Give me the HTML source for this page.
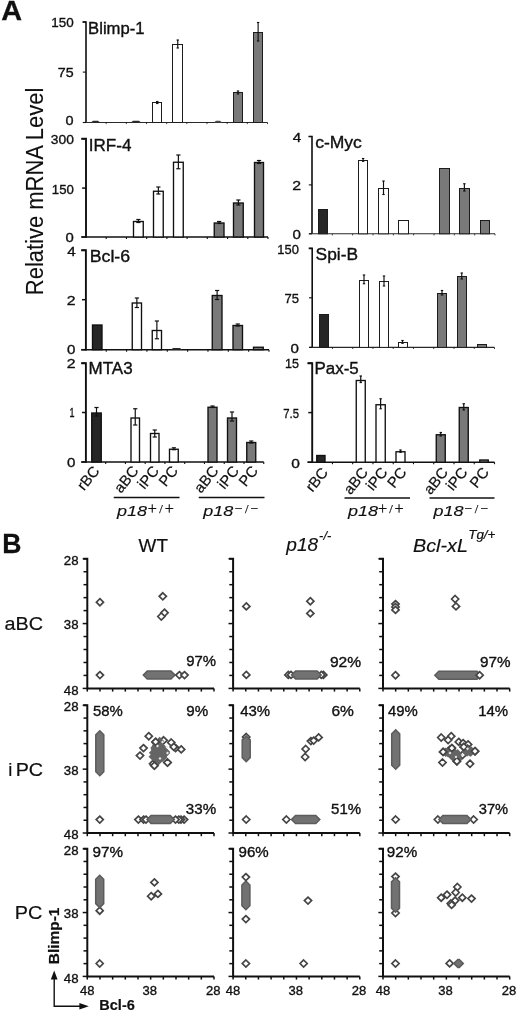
<!DOCTYPE html>
<html lang="en">
<head>
<meta charset="utf-8">
<title>Figure</title>
<style>
html,body{margin:0;padding:0;background:#fff;}
body{width:520px;height:1015px;overflow:hidden;}
svg{display:block;font-family:"Liberation Sans",sans-serif;fill:#101010;}
svg text{stroke:#101010;fill:#101010;}
</style>
</head>
<body>
<svg width="520" height="1015" viewBox="0 0 520 1015" stroke-width="0.35">
<rect x="0" y="0" width="520" height="1015" fill="#ffffff"/>
<g id="panelA">
<text x="1.18" y="19.50" font-size="27.5" textLength="20.80" lengthAdjust="spacingAndGlyphs" font-weight="bold" stroke-width="0.3">A</text>
<text transform="translate(42.5 293.4) rotate(-90)" x="-1.81" y="0" font-size="23.5" textLength="207.56" lengthAdjust="spacingAndGlyphs" stroke-width="0.1">Relative mRNA Level</text>
<path d="M82.50 22.00H86.00V122.50" fill="none" stroke="#101010" stroke-width="1.6"/>
<path d="M83.00 122.50H267.50" fill="none" stroke="#2a2a2a" stroke-width="1.1"/>
<line x1="82.80" y1="22.00" x2="86.00" y2="22.00" stroke="#101010" stroke-width="1.1"/>
<text x="51.19" y="26.95" font-size="13.5" textLength="22.43" lengthAdjust="spacingAndGlyphs">150</text>
<line x1="82.80" y1="72.10" x2="86.00" y2="72.10" stroke="#101010" stroke-width="1.1"/>
<text x="57.85" y="77.15" font-size="13.5" textLength="15.85" lengthAdjust="spacingAndGlyphs">75</text>
<line x1="82.80" y1="122.50" x2="86.00" y2="122.50" stroke="#101010" stroke-width="1.1"/>
<text x="65.62" y="124.95" font-size="13.5" textLength="8.04" lengthAdjust="spacingAndGlyphs">0</text>
<line x1="106.17" y1="122.50" x2="106.17" y2="124.10" stroke="#101010" stroke-width="0.8"/>
<line x1="126.33" y1="122.50" x2="126.33" y2="124.10" stroke="#101010" stroke-width="0.8"/>
<line x1="146.50" y1="122.50" x2="146.50" y2="124.10" stroke="#101010" stroke-width="0.8"/>
<line x1="166.67" y1="122.50" x2="166.67" y2="124.10" stroke="#101010" stroke-width="0.8"/>
<line x1="186.83" y1="122.50" x2="186.83" y2="124.10" stroke="#101010" stroke-width="0.8"/>
<line x1="207.00" y1="122.50" x2="207.00" y2="124.10" stroke="#101010" stroke-width="0.8"/>
<line x1="227.17" y1="122.50" x2="227.17" y2="124.10" stroke="#101010" stroke-width="0.8"/>
<line x1="247.33" y1="122.50" x2="247.33" y2="124.10" stroke="#101010" stroke-width="0.8"/>
<line x1="267.50" y1="122.50" x2="267.50" y2="124.10" stroke="#101010" stroke-width="0.8"/>
<text x="88.13" y="33.80" font-size="16" textLength="56.40" lengthAdjust="spacingAndGlyphs">Blimp-1</text>
<path d="M91.00 122.50L93.00 120.80H98.00L100.00 122.50Z" fill="#2a2a2a"/>
<path d="M131.00 122.50L133.00 120.80H139.00L141.00 122.50Z" fill="#2a2a2a"/>
<rect x="152.50" y="102.50" width="9.00" height="20.00" fill="#ffffff" stroke="#1c1c1c" stroke-width="1.0"/>
<line x1="157.25" y1="101.50" x2="157.25" y2="103.50" stroke="#101010" stroke-width="1.15"/>
<line x1="156.05" y1="101.50" x2="158.45" y2="101.50" stroke="#101010" stroke-width="1.15"/>
<line x1="156.05" y1="103.50" x2="158.45" y2="103.50" stroke="#101010" stroke-width="1.15"/>
<rect x="172.50" y="44.50" width="10.00" height="78.00" fill="#ffffff" stroke="#1c1c1c" stroke-width="1.0"/>
<line x1="177.75" y1="40.00" x2="177.75" y2="48.00" stroke="#101010" stroke-width="1.15"/>
<line x1="176.55" y1="40.00" x2="178.95" y2="40.00" stroke="#101010" stroke-width="1.15"/>
<line x1="176.55" y1="48.00" x2="178.95" y2="48.00" stroke="#101010" stroke-width="1.15"/>
<path d="M214.00 122.50L216.00 120.80H220.00L222.00 122.50Z" fill="#4a4a4a"/>
<rect x="233.50" y="92.50" width="9.00" height="30.00" fill="#797979" stroke="#1c1c1c" stroke-width="1.0"/>
<line x1="238.00" y1="91.00" x2="238.00" y2="94.00" stroke="#101010" stroke-width="1.15"/>
<line x1="236.80" y1="91.00" x2="239.20" y2="91.00" stroke="#101010" stroke-width="1.15"/>
<line x1="236.80" y1="94.00" x2="239.20" y2="94.00" stroke="#101010" stroke-width="1.15"/>
<rect x="253.50" y="32.50" width="9.00" height="90.00" fill="#797979" stroke="#1c1c1c" stroke-width="1.0"/>
<line x1="258.12" y1="22.50" x2="258.12" y2="41.00" stroke="#101010" stroke-width="1.15"/>
<line x1="256.93" y1="22.50" x2="259.32" y2="22.50" stroke="#101010" stroke-width="1.15"/>
<line x1="256.93" y1="41.00" x2="259.32" y2="41.00" stroke="#101010" stroke-width="1.15"/>
<path d="M81.40 138.75H86.00V237.75" fill="none" stroke="#101010" stroke-width="1.9"/>
<path d="M81.40 237.00H268.00" fill="none" stroke="#101010" stroke-width="1.5"/>
<line x1="81.40" y1="138.75" x2="86.00" y2="138.75" stroke="#101010" stroke-width="1.5"/>
<text x="50.78" y="144.45" font-size="13.5" textLength="23.05" lengthAdjust="spacingAndGlyphs">300</text>
<line x1="82.10" y1="188.10" x2="86.00" y2="188.10" stroke="#101010" stroke-width="1.5"/>
<text x="51.81" y="193.95" font-size="13.5" textLength="22.00" lengthAdjust="spacingAndGlyphs">150</text>
<line x1="81.40" y1="237.00" x2="86.00" y2="237.00" stroke="#101010" stroke-width="1.5"/>
<text x="65.61" y="242.35" font-size="13.5" textLength="8.27" lengthAdjust="spacingAndGlyphs">0</text>
<line x1="106.22" y1="237.00" x2="106.22" y2="239.00" stroke="#101010" stroke-width="1.1"/>
<line x1="126.44" y1="237.00" x2="126.44" y2="239.00" stroke="#101010" stroke-width="1.1"/>
<line x1="146.67" y1="237.00" x2="146.67" y2="239.00" stroke="#101010" stroke-width="1.1"/>
<line x1="166.89" y1="237.00" x2="166.89" y2="239.00" stroke="#101010" stroke-width="1.1"/>
<line x1="187.11" y1="237.00" x2="187.11" y2="239.00" stroke="#101010" stroke-width="1.1"/>
<line x1="207.33" y1="237.00" x2="207.33" y2="239.00" stroke="#101010" stroke-width="1.1"/>
<line x1="227.56" y1="237.00" x2="227.56" y2="239.00" stroke="#101010" stroke-width="1.1"/>
<line x1="247.78" y1="237.00" x2="247.78" y2="239.00" stroke="#101010" stroke-width="1.1"/>
<line x1="268.00" y1="237.00" x2="268.00" y2="239.00" stroke="#101010" stroke-width="1.1"/>
<text x="88.82" y="150.90" font-size="16" textLength="42.65" lengthAdjust="spacingAndGlyphs">IRF-4</text>
<rect x="133.50" y="221.50" width="9.75" height="15.50" fill="#ffffff" stroke="#101010" stroke-width="1.35"/>
<line x1="138.38" y1="219.50" x2="138.38" y2="222.50" stroke="#101010" stroke-width="1.2"/>
<line x1="136.28" y1="219.50" x2="140.47" y2="219.50" stroke="#101010" stroke-width="1.2"/>
<line x1="136.28" y1="222.50" x2="140.47" y2="222.50" stroke="#101010" stroke-width="1.2"/>
<rect x="153.50" y="191.25" width="9.75" height="45.75" fill="#ffffff" stroke="#101010" stroke-width="1.35"/>
<line x1="158.38" y1="187.00" x2="158.38" y2="194.00" stroke="#101010" stroke-width="1.2"/>
<line x1="156.28" y1="187.00" x2="160.47" y2="187.00" stroke="#101010" stroke-width="1.2"/>
<line x1="156.28" y1="194.00" x2="160.47" y2="194.00" stroke="#101010" stroke-width="1.2"/>
<rect x="173.50" y="162.25" width="9.75" height="74.75" fill="#ffffff" stroke="#101010" stroke-width="1.35"/>
<line x1="178.38" y1="155.00" x2="178.38" y2="168.75" stroke="#101010" stroke-width="1.2"/>
<line x1="176.28" y1="155.00" x2="180.47" y2="155.00" stroke="#101010" stroke-width="1.2"/>
<line x1="176.28" y1="168.75" x2="180.47" y2="168.75" stroke="#101010" stroke-width="1.2"/>
<rect x="214.25" y="223.00" width="9.75" height="14.00" fill="#797979" stroke="#101010" stroke-width="1.35"/>
<line x1="219.12" y1="221.50" x2="219.12" y2="223.50" stroke="#101010" stroke-width="1.2"/>
<line x1="217.03" y1="221.50" x2="221.22" y2="221.50" stroke="#101010" stroke-width="1.2"/>
<line x1="217.03" y1="223.50" x2="221.22" y2="223.50" stroke="#101010" stroke-width="1.2"/>
<rect x="233.50" y="203.00" width="9.75" height="34.00" fill="#797979" stroke="#101010" stroke-width="1.35"/>
<line x1="238.38" y1="200.00" x2="238.38" y2="205.00" stroke="#101010" stroke-width="1.2"/>
<line x1="236.28" y1="200.00" x2="240.47" y2="200.00" stroke="#101010" stroke-width="1.2"/>
<line x1="236.28" y1="205.00" x2="240.47" y2="205.00" stroke="#101010" stroke-width="1.2"/>
<rect x="254.50" y="162.50" width="9.00" height="74.50" fill="#797979" stroke="#101010" stroke-width="1.35"/>
<line x1="259.00" y1="160.50" x2="259.00" y2="163.50" stroke="#101010" stroke-width="1.2"/>
<line x1="256.90" y1="160.50" x2="261.10" y2="160.50" stroke="#101010" stroke-width="1.2"/>
<line x1="256.90" y1="163.50" x2="261.10" y2="163.50" stroke="#101010" stroke-width="1.2"/>
<path d="M81.30 250.30H85.90V350.45" fill="none" stroke="#101010" stroke-width="1.9"/>
<path d="M81.30 349.70H269.00" fill="none" stroke="#101010" stroke-width="1.5"/>
<line x1="81.30" y1="250.30" x2="85.90" y2="250.30" stroke="#101010" stroke-width="1.5"/>
<text x="67.16" y="256.05" font-size="13.5" textLength="8.48" lengthAdjust="spacingAndGlyphs">4</text>
<line x1="82.00" y1="299.70" x2="85.90" y2="299.70" stroke="#101010" stroke-width="1.5"/>
<text x="66.71" y="304.55" font-size="13.5" textLength="8.80" lengthAdjust="spacingAndGlyphs">2</text>
<line x1="81.30" y1="349.70" x2="85.90" y2="349.70" stroke="#101010" stroke-width="1.5"/>
<text x="66.90" y="354.45" font-size="13.5" textLength="8.39" lengthAdjust="spacingAndGlyphs">0</text>
<line x1="106.24" y1="349.70" x2="106.24" y2="351.70" stroke="#101010" stroke-width="1.1"/>
<line x1="126.59" y1="349.70" x2="126.59" y2="351.70" stroke="#101010" stroke-width="1.1"/>
<line x1="146.93" y1="349.70" x2="146.93" y2="351.70" stroke="#101010" stroke-width="1.1"/>
<line x1="167.28" y1="349.70" x2="167.28" y2="351.70" stroke="#101010" stroke-width="1.1"/>
<line x1="187.62" y1="349.70" x2="187.62" y2="351.70" stroke="#101010" stroke-width="1.1"/>
<line x1="207.97" y1="349.70" x2="207.97" y2="351.70" stroke="#101010" stroke-width="1.1"/>
<line x1="228.31" y1="349.70" x2="228.31" y2="351.70" stroke="#101010" stroke-width="1.1"/>
<line x1="248.66" y1="349.70" x2="248.66" y2="351.70" stroke="#101010" stroke-width="1.1"/>
<line x1="269.00" y1="349.70" x2="269.00" y2="351.70" stroke="#101010" stroke-width="1.1"/>
<text x="89.74" y="261.70" font-size="16" textLength="40.33" lengthAdjust="spacingAndGlyphs">Bcl-6</text>
<rect x="92.50" y="325.00" width="9.50" height="24.70" fill="#262626" stroke="#101010" stroke-width="1.35"/>
<rect x="132.25" y="303.00" width="9.25" height="46.70" fill="#ffffff" stroke="#101010" stroke-width="1.35"/>
<line x1="136.88" y1="298.00" x2="136.88" y2="307.50" stroke="#101010" stroke-width="1.2"/>
<line x1="134.78" y1="298.00" x2="138.97" y2="298.00" stroke="#101010" stroke-width="1.2"/>
<line x1="134.78" y1="307.50" x2="138.97" y2="307.50" stroke="#101010" stroke-width="1.2"/>
<rect x="152.25" y="330.50" width="9.25" height="19.20" fill="#ffffff" stroke="#101010" stroke-width="1.35"/>
<line x1="156.88" y1="321.00" x2="156.88" y2="338.75" stroke="#101010" stroke-width="1.2"/>
<line x1="154.78" y1="321.00" x2="158.97" y2="321.00" stroke="#101010" stroke-width="1.2"/>
<line x1="154.78" y1="338.75" x2="158.97" y2="338.75" stroke="#101010" stroke-width="1.2"/>
<path d="M171.00 349.70L173.00 348.00H180.00L182.00 349.70Z" fill="#2a2a2a"/>
<rect x="212.25" y="295.50" width="9.75" height="54.20" fill="#797979" stroke="#101010" stroke-width="1.35"/>
<line x1="217.12" y1="290.50" x2="217.12" y2="299.50" stroke="#101010" stroke-width="1.2"/>
<line x1="215.03" y1="290.50" x2="219.22" y2="290.50" stroke="#101010" stroke-width="1.2"/>
<line x1="215.03" y1="299.50" x2="219.22" y2="299.50" stroke="#101010" stroke-width="1.2"/>
<rect x="233.00" y="325.50" width="9.50" height="24.20" fill="#797979" stroke="#101010" stroke-width="1.35"/>
<line x1="237.75" y1="324.00" x2="237.75" y2="326.00" stroke="#101010" stroke-width="1.2"/>
<line x1="235.65" y1="324.00" x2="239.85" y2="324.00" stroke="#101010" stroke-width="1.2"/>
<line x1="235.65" y1="326.00" x2="239.85" y2="326.00" stroke="#101010" stroke-width="1.2"/>
<rect x="253.50" y="347.25" width="9.75" height="2.45" fill="#797979" stroke="#101010" stroke-width="1.35"/>
<path d="M81.30 363.20H85.90V462.75" fill="none" stroke="#101010" stroke-width="1.9"/>
<path d="M81.30 462.00H263.75" fill="none" stroke="#101010" stroke-width="1.5"/>
<line x1="81.30" y1="363.20" x2="85.90" y2="363.20" stroke="#101010" stroke-width="1.5"/>
<text x="66.71" y="368.45" font-size="13.5" textLength="8.80" lengthAdjust="spacingAndGlyphs">2</text>
<line x1="82.00" y1="412.50" x2="85.90" y2="412.50" stroke="#101010" stroke-width="1.5"/>
<text x="69.62" y="417.35" font-size="13.5" textLength="5.02" lengthAdjust="spacingAndGlyphs">1</text>
<line x1="81.30" y1="462.00" x2="85.90" y2="462.00" stroke="#101010" stroke-width="1.5"/>
<text x="66.90" y="466.95" font-size="13.5" textLength="8.39" lengthAdjust="spacingAndGlyphs">0</text>
<line x1="105.66" y1="462.00" x2="105.66" y2="464.00" stroke="#101010" stroke-width="1.1"/>
<line x1="125.42" y1="462.00" x2="125.42" y2="464.00" stroke="#101010" stroke-width="1.1"/>
<line x1="145.18" y1="462.00" x2="145.18" y2="464.00" stroke="#101010" stroke-width="1.1"/>
<line x1="164.94" y1="462.00" x2="164.94" y2="464.00" stroke="#101010" stroke-width="1.1"/>
<line x1="184.71" y1="462.00" x2="184.71" y2="464.00" stroke="#101010" stroke-width="1.1"/>
<line x1="204.47" y1="462.00" x2="204.47" y2="464.00" stroke="#101010" stroke-width="1.1"/>
<line x1="224.23" y1="462.00" x2="224.23" y2="464.00" stroke="#101010" stroke-width="1.1"/>
<line x1="243.99" y1="462.00" x2="243.99" y2="464.00" stroke="#101010" stroke-width="1.1"/>
<line x1="263.75" y1="462.00" x2="263.75" y2="464.00" stroke="#101010" stroke-width="1.1"/>
<text x="88.60" y="373.50" font-size="16" textLength="44.03" lengthAdjust="spacingAndGlyphs">MTA3</text>
<rect x="91.75" y="413.00" width="9.50" height="49.00" fill="#262626" stroke="#101010" stroke-width="1.35"/>
<line x1="96.50" y1="407.50" x2="96.50" y2="416.00" stroke="#101010" stroke-width="1.2"/>
<line x1="94.40" y1="407.50" x2="98.60" y2="407.50" stroke="#101010" stroke-width="1.2"/>
<line x1="94.40" y1="416.00" x2="98.60" y2="416.00" stroke="#101010" stroke-width="1.2"/>
<rect x="131.00" y="418.00" width="8.50" height="44.00" fill="#ffffff" stroke="#101010" stroke-width="1.35"/>
<line x1="135.25" y1="408.75" x2="135.25" y2="425.00" stroke="#101010" stroke-width="1.2"/>
<line x1="133.15" y1="408.75" x2="137.35" y2="408.75" stroke="#101010" stroke-width="1.2"/>
<line x1="133.15" y1="425.00" x2="137.35" y2="425.00" stroke="#101010" stroke-width="1.2"/>
<rect x="150.50" y="433.50" width="8.50" height="28.50" fill="#ffffff" stroke="#101010" stroke-width="1.35"/>
<line x1="154.75" y1="430.00" x2="154.75" y2="437.00" stroke="#101010" stroke-width="1.2"/>
<line x1="152.65" y1="430.00" x2="156.85" y2="430.00" stroke="#101010" stroke-width="1.2"/>
<line x1="152.65" y1="437.00" x2="156.85" y2="437.00" stroke="#101010" stroke-width="1.2"/>
<rect x="169.50" y="449.25" width="8.75" height="12.75" fill="#ffffff" stroke="#101010" stroke-width="1.35"/>
<line x1="173.88" y1="447.80" x2="173.88" y2="449.70" stroke="#101010" stroke-width="1.2"/>
<line x1="171.78" y1="447.80" x2="175.97" y2="447.80" stroke="#101010" stroke-width="1.2"/>
<line x1="171.78" y1="449.70" x2="175.97" y2="449.70" stroke="#101010" stroke-width="1.2"/>
<rect x="208.00" y="407.25" width="9.00" height="54.75" fill="#797979" stroke="#101010" stroke-width="1.35"/>
<line x1="212.50" y1="406.00" x2="212.50" y2="407.50" stroke="#101010" stroke-width="1.2"/>
<line x1="210.40" y1="406.00" x2="214.60" y2="406.00" stroke="#101010" stroke-width="1.2"/>
<line x1="210.40" y1="407.50" x2="214.60" y2="407.50" stroke="#101010" stroke-width="1.2"/>
<rect x="227.50" y="418.00" width="9.00" height="44.00" fill="#797979" stroke="#101010" stroke-width="1.35"/>
<line x1="232.00" y1="412.00" x2="232.00" y2="421.00" stroke="#101010" stroke-width="1.2"/>
<line x1="229.90" y1="412.00" x2="234.10" y2="412.00" stroke="#101010" stroke-width="1.2"/>
<line x1="229.90" y1="421.00" x2="234.10" y2="421.00" stroke="#101010" stroke-width="1.2"/>
<rect x="246.75" y="442.50" width="9.00" height="19.50" fill="#797979" stroke="#101010" stroke-width="1.35"/>
<line x1="251.25" y1="441.00" x2="251.25" y2="443.00" stroke="#101010" stroke-width="1.2"/>
<line x1="249.15" y1="441.00" x2="253.35" y2="441.00" stroke="#101010" stroke-width="1.2"/>
<line x1="249.15" y1="443.00" x2="253.35" y2="443.00" stroke="#101010" stroke-width="1.2"/>
<path d="M308.50 136.50H312.00V233.80" fill="none" stroke="#101010" stroke-width="1.6"/>
<path d="M309.00 233.80H495.00" fill="none" stroke="#2a2a2a" stroke-width="1.1"/>
<line x1="308.80" y1="136.50" x2="312.00" y2="136.50" stroke="#101010" stroke-width="1.1"/>
<text x="292.66" y="142.35" font-size="13.5" textLength="8.48" lengthAdjust="spacingAndGlyphs">4</text>
<line x1="308.80" y1="184.90" x2="312.00" y2="184.90" stroke="#101010" stroke-width="1.1"/>
<text x="292.21" y="190.05" font-size="13.5" textLength="8.80" lengthAdjust="spacingAndGlyphs">2</text>
<line x1="308.80" y1="233.80" x2="312.00" y2="233.80" stroke="#101010" stroke-width="1.1"/>
<text x="292.40" y="239.15" font-size="13.5" textLength="8.39" lengthAdjust="spacingAndGlyphs">0</text>
<line x1="332.33" y1="233.80" x2="332.33" y2="235.40" stroke="#101010" stroke-width="0.8"/>
<line x1="352.67" y1="233.80" x2="352.67" y2="235.40" stroke="#101010" stroke-width="0.8"/>
<line x1="373.00" y1="233.80" x2="373.00" y2="235.40" stroke="#101010" stroke-width="0.8"/>
<line x1="393.33" y1="233.80" x2="393.33" y2="235.40" stroke="#101010" stroke-width="0.8"/>
<line x1="413.67" y1="233.80" x2="413.67" y2="235.40" stroke="#101010" stroke-width="0.8"/>
<line x1="434.00" y1="233.80" x2="434.00" y2="235.40" stroke="#101010" stroke-width="0.8"/>
<line x1="454.33" y1="233.80" x2="454.33" y2="235.40" stroke="#101010" stroke-width="0.8"/>
<line x1="474.67" y1="233.80" x2="474.67" y2="235.40" stroke="#101010" stroke-width="0.8"/>
<line x1="495.00" y1="233.80" x2="495.00" y2="235.40" stroke="#101010" stroke-width="0.8"/>
<text x="315.15" y="148.40" font-size="16" textLength="46.75" lengthAdjust="spacingAndGlyphs">c-Myc</text>
<rect x="318.50" y="209.50" width="9.00" height="24.30" fill="#262626" stroke="#1c1c1c" stroke-width="1.0"/>
<rect x="358.50" y="160.50" width="9.00" height="73.30" fill="#ffffff" stroke="#1c1c1c" stroke-width="1.0"/>
<line x1="363.12" y1="158.50" x2="363.12" y2="161.30" stroke="#101010" stroke-width="1.15"/>
<line x1="361.93" y1="158.50" x2="364.32" y2="158.50" stroke="#101010" stroke-width="1.15"/>
<line x1="361.93" y1="161.30" x2="364.32" y2="161.30" stroke="#101010" stroke-width="1.15"/>
<rect x="378.50" y="188.50" width="10.00" height="45.30" fill="#ffffff" stroke="#1c1c1c" stroke-width="1.0"/>
<line x1="383.50" y1="181.00" x2="383.50" y2="194.50" stroke="#101010" stroke-width="1.15"/>
<line x1="382.30" y1="181.00" x2="384.70" y2="181.00" stroke="#101010" stroke-width="1.15"/>
<line x1="382.30" y1="194.50" x2="384.70" y2="194.50" stroke="#101010" stroke-width="1.15"/>
<rect x="398.50" y="220.50" width="10.00" height="13.30" fill="#ffffff" stroke="#1c1c1c" stroke-width="1.0"/>
<rect x="439.50" y="168.50" width="10.00" height="65.30" fill="#797979" stroke="#1c1c1c" stroke-width="1.0"/>
<rect x="459.50" y="188.50" width="10.00" height="45.30" fill="#797979" stroke="#1c1c1c" stroke-width="1.0"/>
<line x1="464.38" y1="183.75" x2="464.38" y2="191.00" stroke="#101010" stroke-width="1.15"/>
<line x1="463.18" y1="183.75" x2="465.57" y2="183.75" stroke="#101010" stroke-width="1.15"/>
<line x1="463.18" y1="191.00" x2="465.57" y2="191.00" stroke="#101010" stroke-width="1.15"/>
<rect x="480.50" y="220.50" width="9.00" height="13.30" fill="#797979" stroke="#1c1c1c" stroke-width="1.0"/>
<path d="M308.70 248.40H312.20V347.40" fill="none" stroke="#101010" stroke-width="1.6"/>
<path d="M309.20 347.40H494.50" fill="none" stroke="#2a2a2a" stroke-width="1.1"/>
<line x1="309.00" y1="248.40" x2="312.20" y2="248.40" stroke="#101010" stroke-width="1.1"/>
<text x="277.33" y="254.35" font-size="13.5" textLength="21.57" lengthAdjust="spacingAndGlyphs">150</text>
<line x1="309.00" y1="297.80" x2="312.20" y2="297.80" stroke="#101010" stroke-width="1.1"/>
<text x="284.41" y="302.85" font-size="13.5" textLength="14.54" lengthAdjust="spacingAndGlyphs">75</text>
<line x1="309.00" y1="347.40" x2="312.20" y2="347.40" stroke="#101010" stroke-width="1.1"/>
<text x="290.60" y="352.85" font-size="13.5" textLength="8.39" lengthAdjust="spacingAndGlyphs">0</text>
<line x1="332.46" y1="347.40" x2="332.46" y2="349.00" stroke="#101010" stroke-width="0.8"/>
<line x1="352.71" y1="347.40" x2="352.71" y2="349.00" stroke="#101010" stroke-width="0.8"/>
<line x1="372.97" y1="347.40" x2="372.97" y2="349.00" stroke="#101010" stroke-width="0.8"/>
<line x1="393.22" y1="347.40" x2="393.22" y2="349.00" stroke="#101010" stroke-width="0.8"/>
<line x1="413.48" y1="347.40" x2="413.48" y2="349.00" stroke="#101010" stroke-width="0.8"/>
<line x1="433.73" y1="347.40" x2="433.73" y2="349.00" stroke="#101010" stroke-width="0.8"/>
<line x1="453.99" y1="347.40" x2="453.99" y2="349.00" stroke="#101010" stroke-width="0.8"/>
<line x1="474.24" y1="347.40" x2="474.24" y2="349.00" stroke="#101010" stroke-width="0.8"/>
<line x1="494.50" y1="347.40" x2="494.50" y2="349.00" stroke="#101010" stroke-width="0.8"/>
<text x="315.62" y="259.60" font-size="16" textLength="42.40" lengthAdjust="spacingAndGlyphs">Spi-B</text>
<rect x="319.50" y="314.50" width="9.00" height="32.90" fill="#262626" stroke="#1c1c1c" stroke-width="1.0"/>
<rect x="359.50" y="280.50" width="9.00" height="66.90" fill="#ffffff" stroke="#1c1c1c" stroke-width="1.0"/>
<line x1="364.00" y1="275.00" x2="364.00" y2="283.75" stroke="#101010" stroke-width="1.15"/>
<line x1="362.80" y1="275.00" x2="365.20" y2="275.00" stroke="#101010" stroke-width="1.15"/>
<line x1="362.80" y1="283.75" x2="365.20" y2="283.75" stroke="#101010" stroke-width="1.15"/>
<rect x="379.50" y="281.50" width="9.00" height="65.90" fill="#ffffff" stroke="#1c1c1c" stroke-width="1.0"/>
<line x1="384.00" y1="276.00" x2="384.00" y2="286.00" stroke="#101010" stroke-width="1.15"/>
<line x1="382.80" y1="276.00" x2="385.20" y2="276.00" stroke="#101010" stroke-width="1.15"/>
<line x1="382.80" y1="286.00" x2="385.20" y2="286.00" stroke="#101010" stroke-width="1.15"/>
<rect x="398.50" y="342.50" width="9.00" height="4.90" fill="#ffffff" stroke="#1c1c1c" stroke-width="1.0"/>
<line x1="402.50" y1="340.50" x2="402.50" y2="343.30" stroke="#101010" stroke-width="1.15"/>
<line x1="401.30" y1="340.50" x2="403.70" y2="340.50" stroke="#101010" stroke-width="1.15"/>
<line x1="401.30" y1="343.30" x2="403.70" y2="343.30" stroke="#101010" stroke-width="1.15"/>
<rect x="437.50" y="293.50" width="9.00" height="53.90" fill="#797979" stroke="#1c1c1c" stroke-width="1.0"/>
<line x1="442.00" y1="290.50" x2="442.00" y2="295.00" stroke="#101010" stroke-width="1.15"/>
<line x1="440.80" y1="290.50" x2="443.20" y2="290.50" stroke="#101010" stroke-width="1.15"/>
<line x1="440.80" y1="295.00" x2="443.20" y2="295.00" stroke="#101010" stroke-width="1.15"/>
<rect x="457.50" y="276.50" width="9.00" height="70.90" fill="#797979" stroke="#1c1c1c" stroke-width="1.0"/>
<line x1="461.75" y1="273.00" x2="461.75" y2="279.00" stroke="#101010" stroke-width="1.15"/>
<line x1="460.55" y1="273.00" x2="462.95" y2="273.00" stroke="#101010" stroke-width="1.15"/>
<line x1="460.55" y1="279.00" x2="462.95" y2="279.00" stroke="#101010" stroke-width="1.15"/>
<rect x="477.50" y="344.50" width="9.00" height="2.90" fill="#797979" stroke="#1c1c1c" stroke-width="1.0"/>
<path d="M307.60 363.20H312.20V462.95" fill="none" stroke="#101010" stroke-width="1.9"/>
<path d="M307.60 462.20H494.50" fill="none" stroke="#101010" stroke-width="1.5"/>
<line x1="307.60" y1="363.20" x2="312.20" y2="363.20" stroke="#101010" stroke-width="1.5"/>
<text x="285.06" y="368.35" font-size="13.5" textLength="13.97" lengthAdjust="spacingAndGlyphs">15</text>
<line x1="308.30" y1="412.60" x2="312.20" y2="412.60" stroke="#101010" stroke-width="1.5"/>
<text x="283.21" y="417.55" font-size="13.5" textLength="15.75" lengthAdjust="spacingAndGlyphs">7.5</text>
<line x1="307.60" y1="462.20" x2="312.20" y2="462.20" stroke="#101010" stroke-width="1.5"/>
<text x="291.38" y="467.75" font-size="13.5" textLength="8.62" lengthAdjust="spacingAndGlyphs">0</text>
<line x1="332.46" y1="462.20" x2="332.46" y2="464.20" stroke="#101010" stroke-width="1.1"/>
<line x1="352.71" y1="462.20" x2="352.71" y2="464.20" stroke="#101010" stroke-width="1.1"/>
<line x1="372.97" y1="462.20" x2="372.97" y2="464.20" stroke="#101010" stroke-width="1.1"/>
<line x1="393.22" y1="462.20" x2="393.22" y2="464.20" stroke="#101010" stroke-width="1.1"/>
<line x1="413.48" y1="462.20" x2="413.48" y2="464.20" stroke="#101010" stroke-width="1.1"/>
<line x1="433.73" y1="462.20" x2="433.73" y2="464.20" stroke="#101010" stroke-width="1.1"/>
<line x1="453.99" y1="462.20" x2="453.99" y2="464.20" stroke="#101010" stroke-width="1.1"/>
<line x1="474.24" y1="462.20" x2="474.24" y2="464.20" stroke="#101010" stroke-width="1.1"/>
<line x1="494.50" y1="462.20" x2="494.50" y2="464.20" stroke="#101010" stroke-width="1.1"/>
<text x="314.50" y="374.30" font-size="16" textLength="44.21" lengthAdjust="spacingAndGlyphs">Pax-5</text>
<rect x="316.75" y="455.50" width="8.25" height="6.70" fill="#262626" stroke="#101010" stroke-width="1.35"/>
<rect x="356.25" y="380.50" width="9.00" height="81.70" fill="#ffffff" stroke="#101010" stroke-width="1.35"/>
<line x1="360.75" y1="376.00" x2="360.75" y2="382.50" stroke="#101010" stroke-width="1.2"/>
<line x1="359.55" y1="376.00" x2="361.95" y2="376.00" stroke="#101010" stroke-width="1.2"/>
<line x1="359.55" y1="382.50" x2="361.95" y2="382.50" stroke="#101010" stroke-width="1.2"/>
<rect x="376.00" y="404.75" width="9.25" height="57.45" fill="#ffffff" stroke="#101010" stroke-width="1.35"/>
<line x1="380.62" y1="398.75" x2="380.62" y2="408.75" stroke="#101010" stroke-width="1.2"/>
<line x1="379.43" y1="398.75" x2="381.82" y2="398.75" stroke="#101010" stroke-width="1.2"/>
<line x1="379.43" y1="408.75" x2="381.82" y2="408.75" stroke="#101010" stroke-width="1.2"/>
<rect x="396.00" y="451.75" width="9.00" height="10.45" fill="#ffffff" stroke="#101010" stroke-width="1.35"/>
<line x1="400.50" y1="450.00" x2="400.50" y2="452.30" stroke="#101010" stroke-width="1.2"/>
<line x1="399.30" y1="450.00" x2="401.70" y2="450.00" stroke="#101010" stroke-width="1.2"/>
<line x1="399.30" y1="452.30" x2="401.70" y2="452.30" stroke="#101010" stroke-width="1.2"/>
<rect x="436.25" y="434.75" width="9.00" height="27.45" fill="#797979" stroke="#101010" stroke-width="1.35"/>
<line x1="440.75" y1="432.50" x2="440.75" y2="436.00" stroke="#101010" stroke-width="1.2"/>
<line x1="439.55" y1="432.50" x2="441.95" y2="432.50" stroke="#101010" stroke-width="1.2"/>
<line x1="439.55" y1="436.00" x2="441.95" y2="436.00" stroke="#101010" stroke-width="1.2"/>
<rect x="459.25" y="407.50" width="9.00" height="54.70" fill="#797979" stroke="#101010" stroke-width="1.35"/>
<line x1="463.75" y1="403.75" x2="463.75" y2="410.00" stroke="#101010" stroke-width="1.2"/>
<line x1="462.55" y1="403.75" x2="464.95" y2="403.75" stroke="#101010" stroke-width="1.2"/>
<line x1="462.55" y1="410.00" x2="464.95" y2="410.00" stroke="#101010" stroke-width="1.2"/>
<rect x="479.75" y="460.00" width="8.50" height="2.20" fill="#797979" stroke="#101010" stroke-width="1.35"/>
<text transform="translate(100.30 471.20) rotate(-51)" font-size="15" text-anchor="end" stroke-width="0.2">rBC</text>
<text transform="translate(139.30 471.20) rotate(-51)" font-size="15" text-anchor="end" stroke-width="0.2">aBC</text>
<text transform="translate(159.80 471.20) rotate(-51)" font-size="15" text-anchor="end" stroke-width="0.2">iPC</text>
<text transform="translate(178.80 471.20) rotate(-51)" font-size="15" text-anchor="end" stroke-width="0.2">PC</text>
<text transform="translate(219.30 471.20) rotate(-51)" font-size="15" text-anchor="end" stroke-width="0.2">aBC</text>
<text transform="translate(239.80 471.20) rotate(-51)" font-size="15" text-anchor="end" stroke-width="0.2">iPC</text>
<text transform="translate(258.80 471.20) rotate(-51)" font-size="15" text-anchor="end" stroke-width="0.2">PC</text>
<text transform="translate(328.80 472.70) rotate(-51)" font-size="15" text-anchor="end" stroke-width="0.2">rBC</text>
<text transform="translate(368.80 472.70) rotate(-51)" font-size="15" text-anchor="end" stroke-width="0.2">aBC</text>
<text transform="translate(388.30 472.70) rotate(-51)" font-size="15" text-anchor="end" stroke-width="0.2">iPC</text>
<text transform="translate(407.30 472.70) rotate(-51)" font-size="15" text-anchor="end" stroke-width="0.2">PC</text>
<text transform="translate(448.80 472.70) rotate(-51)" font-size="15" text-anchor="end" stroke-width="0.2">aBC</text>
<text transform="translate(468.30 472.70) rotate(-51)" font-size="15" text-anchor="end" stroke-width="0.2">iPC</text>
<text transform="translate(489.80 472.70) rotate(-51)" font-size="15" text-anchor="end" stroke-width="0.2">PC</text>
<line x1="113.75" y1="497.50" x2="179.50" y2="497.50" stroke="#101010" stroke-width="1.3"/>
<line x1="198.75" y1="497.50" x2="264.50" y2="497.50" stroke="#101010" stroke-width="1.3"/>
<line x1="344.50" y1="498.00" x2="410.00" y2="498.00" stroke="#101010" stroke-width="1.3"/>
<line x1="429.50" y1="498.00" x2="494.50" y2="498.00" stroke="#101010" stroke-width="1.3"/>
<text x="117.00" y="515.80" font-size="15.5" textLength="30.00" lengthAdjust="spacingAndGlyphs" font-style="italic" stroke-width="0.12">p18</text>
<text x="152.20" y="513.90" font-size="16.2" text-anchor="middle" font-family="'Liberation Serif', serif" stroke-width="0.25">+</text>
<text x="161.00" y="512.60" font-size="12.5" text-anchor="middle" font-family="'Liberation Serif', serif" stroke-width="0.25">/</text>
<text x="169.20" y="513.90" font-size="16.2" text-anchor="middle" font-family="'Liberation Serif', serif" stroke-width="0.25">+</text>
<text x="203.25" y="515.80" font-size="15.5" textLength="30.00" lengthAdjust="spacingAndGlyphs" font-style="italic" stroke-width="0.12">p18</text>
<text x="238.60" y="512.60" font-size="13.5" text-anchor="middle" font-family="'Liberation Serif', serif" stroke-width="0.25">−</text>
<text x="246.80" y="512.60" font-size="12.5" text-anchor="middle" font-family="'Liberation Serif', serif" stroke-width="0.25">/</text>
<text x="254.40" y="512.60" font-size="13.5" text-anchor="middle" font-family="'Liberation Serif', serif" stroke-width="0.25">−</text>
<text x="348.00" y="516.10" font-size="15.5" textLength="30.00" lengthAdjust="spacingAndGlyphs" font-style="italic" stroke-width="0.12">p18</text>
<text x="382.50" y="514.20" font-size="16.2" text-anchor="middle" font-family="'Liberation Serif', serif" stroke-width="0.25">+</text>
<text x="391.10" y="512.90" font-size="12.5" text-anchor="middle" font-family="'Liberation Serif', serif" stroke-width="0.25">/</text>
<text x="399.10" y="514.20" font-size="16.2" text-anchor="middle" font-family="'Liberation Serif', serif" stroke-width="0.25">+</text>
<text x="433.50" y="516.10" font-size="15.5" textLength="30.00" lengthAdjust="spacingAndGlyphs" font-style="italic" stroke-width="0.12">p18</text>
<text x="468.20" y="512.90" font-size="13.5" text-anchor="middle" font-family="'Liberation Serif', serif" stroke-width="0.25">−</text>
<text x="476.50" y="512.90" font-size="12.5" text-anchor="middle" font-family="'Liberation Serif', serif" stroke-width="0.25">/</text>
<text x="484.20" y="512.90" font-size="13.5" text-anchor="middle" font-family="'Liberation Serif', serif" stroke-width="0.25">−</text>
</g>
<g id="panelB">
<text x="2.21" y="552.90" font-size="27.5" textLength="19.18" lengthAdjust="spacingAndGlyphs" font-weight="bold" stroke-width="0.3">B</text>
<text x="138.61" y="552.20" font-size="18.5" textLength="29.31" lengthAdjust="spacingAndGlyphs" stroke-width="0.2">WT</text>
<text x="286.38" y="551.10" font-size="18" textLength="31.84" lengthAdjust="spacingAndGlyphs" font-style="italic" stroke-width="0.15">p18</text>
<text x="319.13" y="540.20" font-size="12.5" textLength="12.08" lengthAdjust="spacingAndGlyphs" font-style="italic" stroke-width="0.2">-/-</text>
<text x="413.11" y="551.60" font-size="18.5" textLength="54.79" lengthAdjust="spacingAndGlyphs" font-style="italic" stroke-width="0.15">Bcl-xL</text>
<text x="468.19" y="539.20" font-size="12.6" textLength="27.26" lengthAdjust="spacingAndGlyphs" font-style="italic" stroke-width="0.2">Tg/+</text>
<text x="4.46" y="629.60" font-size="18.3" textLength="38.54" lengthAdjust="spacingAndGlyphs" stroke-width="0.2">aBC</text>
<text y="775.7" font-size="18.3" stroke-width="0.2"><tspan x="8.2">i</tspan><tspan x="15.67" textLength="27.40" lengthAdjust="spacingAndGlyphs">PC</tspan></text>
<text x="14.77" y="919.20" font-size="18.3" textLength="27.51" lengthAdjust="spacingAndGlyphs" stroke-width="0.2">PC</text>
<path d="M83.30 558.75H87.30V688.40H214.00" fill="none" stroke="#101010" stroke-width="2"/>
<line x1="82.70" y1="558.75" x2="87.30" y2="558.75" stroke="#101010" stroke-width="1.5"/>
<line x1="87.30" y1="688.40" x2="87.30" y2="691.60" stroke="#101010" stroke-width="1.5"/>
<line x1="83.50" y1="571.72" x2="87.30" y2="571.72" stroke="#101010" stroke-width="1.5"/>
<line x1="99.97" y1="688.40" x2="99.97" y2="691.60" stroke="#101010" stroke-width="1.5"/>
<line x1="83.50" y1="584.68" x2="87.30" y2="584.68" stroke="#101010" stroke-width="1.5"/>
<line x1="112.64" y1="688.40" x2="112.64" y2="691.60" stroke="#101010" stroke-width="1.5"/>
<line x1="83.50" y1="597.64" x2="87.30" y2="597.64" stroke="#101010" stroke-width="1.5"/>
<line x1="125.31" y1="688.40" x2="125.31" y2="691.60" stroke="#101010" stroke-width="1.5"/>
<line x1="83.50" y1="610.61" x2="87.30" y2="610.61" stroke="#101010" stroke-width="1.5"/>
<line x1="137.98" y1="688.40" x2="137.98" y2="691.60" stroke="#101010" stroke-width="1.5"/>
<line x1="82.70" y1="623.58" x2="87.30" y2="623.58" stroke="#101010" stroke-width="1.5"/>
<line x1="150.65" y1="688.40" x2="150.65" y2="691.60" stroke="#101010" stroke-width="1.5"/>
<line x1="83.50" y1="636.54" x2="87.30" y2="636.54" stroke="#101010" stroke-width="1.5"/>
<line x1="163.32" y1="688.40" x2="163.32" y2="691.60" stroke="#101010" stroke-width="1.5"/>
<line x1="83.50" y1="649.50" x2="87.30" y2="649.50" stroke="#101010" stroke-width="1.5"/>
<line x1="175.99" y1="688.40" x2="175.99" y2="691.60" stroke="#101010" stroke-width="1.5"/>
<line x1="83.50" y1="662.47" x2="87.30" y2="662.47" stroke="#101010" stroke-width="1.5"/>
<line x1="188.66" y1="688.40" x2="188.66" y2="691.60" stroke="#101010" stroke-width="1.5"/>
<line x1="83.50" y1="675.43" x2="87.30" y2="675.43" stroke="#101010" stroke-width="1.5"/>
<line x1="201.33" y1="688.40" x2="201.33" y2="691.60" stroke="#101010" stroke-width="1.5"/>
<line x1="82.70" y1="688.40" x2="87.30" y2="688.40" stroke="#101010" stroke-width="1.5"/>
<line x1="214.00" y1="688.40" x2="214.00" y2="691.60" stroke="#101010" stroke-width="1.5"/>
<text x="78.50" y="564.85" font-size="13.6" text-anchor="end" textLength="14.70" lengthAdjust="spacingAndGlyphs">28</text>
<text x="78.50" y="628.98" font-size="13.6" text-anchor="end" textLength="14.70" lengthAdjust="spacingAndGlyphs">38</text>
<text x="78.50" y="694.60" font-size="13.6" text-anchor="end" textLength="14.70" lengthAdjust="spacingAndGlyphs">48</text>
<path d="M83.30 705.30H87.30V833.00H214.00" fill="none" stroke="#101010" stroke-width="2"/>
<line x1="82.70" y1="705.30" x2="87.30" y2="705.30" stroke="#101010" stroke-width="1.5"/>
<line x1="87.30" y1="833.00" x2="87.30" y2="836.20" stroke="#101010" stroke-width="1.5"/>
<line x1="83.50" y1="718.07" x2="87.30" y2="718.07" stroke="#101010" stroke-width="1.5"/>
<line x1="99.97" y1="833.00" x2="99.97" y2="836.20" stroke="#101010" stroke-width="1.5"/>
<line x1="83.50" y1="730.84" x2="87.30" y2="730.84" stroke="#101010" stroke-width="1.5"/>
<line x1="112.64" y1="833.00" x2="112.64" y2="836.20" stroke="#101010" stroke-width="1.5"/>
<line x1="83.50" y1="743.61" x2="87.30" y2="743.61" stroke="#101010" stroke-width="1.5"/>
<line x1="125.31" y1="833.00" x2="125.31" y2="836.20" stroke="#101010" stroke-width="1.5"/>
<line x1="83.50" y1="756.38" x2="87.30" y2="756.38" stroke="#101010" stroke-width="1.5"/>
<line x1="137.98" y1="833.00" x2="137.98" y2="836.20" stroke="#101010" stroke-width="1.5"/>
<line x1="82.70" y1="769.15" x2="87.30" y2="769.15" stroke="#101010" stroke-width="1.5"/>
<line x1="150.65" y1="833.00" x2="150.65" y2="836.20" stroke="#101010" stroke-width="1.5"/>
<line x1="83.50" y1="781.92" x2="87.30" y2="781.92" stroke="#101010" stroke-width="1.5"/>
<line x1="163.32" y1="833.00" x2="163.32" y2="836.20" stroke="#101010" stroke-width="1.5"/>
<line x1="83.50" y1="794.69" x2="87.30" y2="794.69" stroke="#101010" stroke-width="1.5"/>
<line x1="175.99" y1="833.00" x2="175.99" y2="836.20" stroke="#101010" stroke-width="1.5"/>
<line x1="83.50" y1="807.46" x2="87.30" y2="807.46" stroke="#101010" stroke-width="1.5"/>
<line x1="188.66" y1="833.00" x2="188.66" y2="836.20" stroke="#101010" stroke-width="1.5"/>
<line x1="83.50" y1="820.23" x2="87.30" y2="820.23" stroke="#101010" stroke-width="1.5"/>
<line x1="201.33" y1="833.00" x2="201.33" y2="836.20" stroke="#101010" stroke-width="1.5"/>
<line x1="82.70" y1="833.00" x2="87.30" y2="833.00" stroke="#101010" stroke-width="1.5"/>
<line x1="214.00" y1="833.00" x2="214.00" y2="836.20" stroke="#101010" stroke-width="1.5"/>
<text x="78.50" y="711.40" font-size="13.6" text-anchor="end" textLength="14.70" lengthAdjust="spacingAndGlyphs">28</text>
<text x="78.50" y="774.55" font-size="13.6" text-anchor="end" textLength="14.70" lengthAdjust="spacingAndGlyphs">38</text>
<text x="78.50" y="839.20" font-size="13.6" text-anchor="end" textLength="14.70" lengthAdjust="spacingAndGlyphs">48</text>
<path d="M83.30 848.70H87.30V976.40H214.00" fill="none" stroke="#101010" stroke-width="2"/>
<line x1="82.70" y1="848.70" x2="87.30" y2="848.70" stroke="#101010" stroke-width="1.5"/>
<line x1="87.30" y1="976.40" x2="87.30" y2="979.60" stroke="#101010" stroke-width="1.5"/>
<line x1="83.50" y1="861.47" x2="87.30" y2="861.47" stroke="#101010" stroke-width="1.5"/>
<line x1="99.97" y1="976.40" x2="99.97" y2="979.60" stroke="#101010" stroke-width="1.5"/>
<line x1="83.50" y1="874.24" x2="87.30" y2="874.24" stroke="#101010" stroke-width="1.5"/>
<line x1="112.64" y1="976.40" x2="112.64" y2="979.60" stroke="#101010" stroke-width="1.5"/>
<line x1="83.50" y1="887.01" x2="87.30" y2="887.01" stroke="#101010" stroke-width="1.5"/>
<line x1="125.31" y1="976.40" x2="125.31" y2="979.60" stroke="#101010" stroke-width="1.5"/>
<line x1="83.50" y1="899.78" x2="87.30" y2="899.78" stroke="#101010" stroke-width="1.5"/>
<line x1="137.98" y1="976.40" x2="137.98" y2="979.60" stroke="#101010" stroke-width="1.5"/>
<line x1="82.70" y1="912.55" x2="87.30" y2="912.55" stroke="#101010" stroke-width="1.5"/>
<line x1="150.65" y1="976.40" x2="150.65" y2="979.60" stroke="#101010" stroke-width="1.5"/>
<line x1="83.50" y1="925.32" x2="87.30" y2="925.32" stroke="#101010" stroke-width="1.5"/>
<line x1="163.32" y1="976.40" x2="163.32" y2="979.60" stroke="#101010" stroke-width="1.5"/>
<line x1="83.50" y1="938.09" x2="87.30" y2="938.09" stroke="#101010" stroke-width="1.5"/>
<line x1="175.99" y1="976.40" x2="175.99" y2="979.60" stroke="#101010" stroke-width="1.5"/>
<line x1="83.50" y1="950.86" x2="87.30" y2="950.86" stroke="#101010" stroke-width="1.5"/>
<line x1="188.66" y1="976.40" x2="188.66" y2="979.60" stroke="#101010" stroke-width="1.5"/>
<line x1="83.50" y1="963.63" x2="87.30" y2="963.63" stroke="#101010" stroke-width="1.5"/>
<line x1="201.33" y1="976.40" x2="201.33" y2="979.60" stroke="#101010" stroke-width="1.5"/>
<line x1="82.70" y1="976.40" x2="87.30" y2="976.40" stroke="#101010" stroke-width="1.5"/>
<line x1="214.00" y1="976.40" x2="214.00" y2="979.60" stroke="#101010" stroke-width="1.5"/>
<text x="78.50" y="854.80" font-size="13.6" text-anchor="end" textLength="14.70" lengthAdjust="spacingAndGlyphs">28</text>
<text x="78.50" y="917.95" font-size="13.6" text-anchor="end" textLength="14.70" lengthAdjust="spacingAndGlyphs">38</text>
<text x="78.50" y="982.60" font-size="13.6" text-anchor="end" textLength="14.70" lengthAdjust="spacingAndGlyphs">48</text>
<text x="87.30" y="995.20" font-size="13.6" text-anchor="middle" textLength="14.50" lengthAdjust="spacingAndGlyphs">48</text>
<text x="149.85" y="995.20" font-size="13.6" text-anchor="middle" textLength="14.50" lengthAdjust="spacingAndGlyphs">38</text>
<text x="213.20" y="995.20" font-size="13.6" text-anchor="middle" textLength="14.50" lengthAdjust="spacingAndGlyphs">28</text>
<path d="M229.10 558.75H233.10V688.40H359.80" fill="none" stroke="#101010" stroke-width="2"/>
<line x1="228.50" y1="558.75" x2="233.10" y2="558.75" stroke="#101010" stroke-width="1.5"/>
<line x1="233.10" y1="688.40" x2="233.10" y2="691.60" stroke="#101010" stroke-width="1.5"/>
<line x1="229.30" y1="571.72" x2="233.10" y2="571.72" stroke="#101010" stroke-width="1.5"/>
<line x1="245.77" y1="688.40" x2="245.77" y2="691.60" stroke="#101010" stroke-width="1.5"/>
<line x1="229.30" y1="584.68" x2="233.10" y2="584.68" stroke="#101010" stroke-width="1.5"/>
<line x1="258.44" y1="688.40" x2="258.44" y2="691.60" stroke="#101010" stroke-width="1.5"/>
<line x1="229.30" y1="597.64" x2="233.10" y2="597.64" stroke="#101010" stroke-width="1.5"/>
<line x1="271.11" y1="688.40" x2="271.11" y2="691.60" stroke="#101010" stroke-width="1.5"/>
<line x1="229.30" y1="610.61" x2="233.10" y2="610.61" stroke="#101010" stroke-width="1.5"/>
<line x1="283.78" y1="688.40" x2="283.78" y2="691.60" stroke="#101010" stroke-width="1.5"/>
<line x1="228.50" y1="623.58" x2="233.10" y2="623.58" stroke="#101010" stroke-width="1.5"/>
<line x1="296.45" y1="688.40" x2="296.45" y2="691.60" stroke="#101010" stroke-width="1.5"/>
<line x1="229.30" y1="636.54" x2="233.10" y2="636.54" stroke="#101010" stroke-width="1.5"/>
<line x1="309.12" y1="688.40" x2="309.12" y2="691.60" stroke="#101010" stroke-width="1.5"/>
<line x1="229.30" y1="649.50" x2="233.10" y2="649.50" stroke="#101010" stroke-width="1.5"/>
<line x1="321.79" y1="688.40" x2="321.79" y2="691.60" stroke="#101010" stroke-width="1.5"/>
<line x1="229.30" y1="662.47" x2="233.10" y2="662.47" stroke="#101010" stroke-width="1.5"/>
<line x1="334.46" y1="688.40" x2="334.46" y2="691.60" stroke="#101010" stroke-width="1.5"/>
<line x1="229.30" y1="675.43" x2="233.10" y2="675.43" stroke="#101010" stroke-width="1.5"/>
<line x1="347.13" y1="688.40" x2="347.13" y2="691.60" stroke="#101010" stroke-width="1.5"/>
<line x1="228.50" y1="688.40" x2="233.10" y2="688.40" stroke="#101010" stroke-width="1.5"/>
<line x1="359.80" y1="688.40" x2="359.80" y2="691.60" stroke="#101010" stroke-width="1.5"/>
<path d="M229.10 705.30H233.10V833.00H359.80" fill="none" stroke="#101010" stroke-width="2"/>
<line x1="228.50" y1="705.30" x2="233.10" y2="705.30" stroke="#101010" stroke-width="1.5"/>
<line x1="233.10" y1="833.00" x2="233.10" y2="836.20" stroke="#101010" stroke-width="1.5"/>
<line x1="229.30" y1="718.07" x2="233.10" y2="718.07" stroke="#101010" stroke-width="1.5"/>
<line x1="245.77" y1="833.00" x2="245.77" y2="836.20" stroke="#101010" stroke-width="1.5"/>
<line x1="229.30" y1="730.84" x2="233.10" y2="730.84" stroke="#101010" stroke-width="1.5"/>
<line x1="258.44" y1="833.00" x2="258.44" y2="836.20" stroke="#101010" stroke-width="1.5"/>
<line x1="229.30" y1="743.61" x2="233.10" y2="743.61" stroke="#101010" stroke-width="1.5"/>
<line x1="271.11" y1="833.00" x2="271.11" y2="836.20" stroke="#101010" stroke-width="1.5"/>
<line x1="229.30" y1="756.38" x2="233.10" y2="756.38" stroke="#101010" stroke-width="1.5"/>
<line x1="283.78" y1="833.00" x2="283.78" y2="836.20" stroke="#101010" stroke-width="1.5"/>
<line x1="228.50" y1="769.15" x2="233.10" y2="769.15" stroke="#101010" stroke-width="1.5"/>
<line x1="296.45" y1="833.00" x2="296.45" y2="836.20" stroke="#101010" stroke-width="1.5"/>
<line x1="229.30" y1="781.92" x2="233.10" y2="781.92" stroke="#101010" stroke-width="1.5"/>
<line x1="309.12" y1="833.00" x2="309.12" y2="836.20" stroke="#101010" stroke-width="1.5"/>
<line x1="229.30" y1="794.69" x2="233.10" y2="794.69" stroke="#101010" stroke-width="1.5"/>
<line x1="321.79" y1="833.00" x2="321.79" y2="836.20" stroke="#101010" stroke-width="1.5"/>
<line x1="229.30" y1="807.46" x2="233.10" y2="807.46" stroke="#101010" stroke-width="1.5"/>
<line x1="334.46" y1="833.00" x2="334.46" y2="836.20" stroke="#101010" stroke-width="1.5"/>
<line x1="229.30" y1="820.23" x2="233.10" y2="820.23" stroke="#101010" stroke-width="1.5"/>
<line x1="347.13" y1="833.00" x2="347.13" y2="836.20" stroke="#101010" stroke-width="1.5"/>
<line x1="228.50" y1="833.00" x2="233.10" y2="833.00" stroke="#101010" stroke-width="1.5"/>
<line x1="359.80" y1="833.00" x2="359.80" y2="836.20" stroke="#101010" stroke-width="1.5"/>
<path d="M229.10 848.70H233.10V976.40H359.80" fill="none" stroke="#101010" stroke-width="2"/>
<line x1="228.50" y1="848.70" x2="233.10" y2="848.70" stroke="#101010" stroke-width="1.5"/>
<line x1="233.10" y1="976.40" x2="233.10" y2="979.60" stroke="#101010" stroke-width="1.5"/>
<line x1="229.30" y1="861.47" x2="233.10" y2="861.47" stroke="#101010" stroke-width="1.5"/>
<line x1="245.77" y1="976.40" x2="245.77" y2="979.60" stroke="#101010" stroke-width="1.5"/>
<line x1="229.30" y1="874.24" x2="233.10" y2="874.24" stroke="#101010" stroke-width="1.5"/>
<line x1="258.44" y1="976.40" x2="258.44" y2="979.60" stroke="#101010" stroke-width="1.5"/>
<line x1="229.30" y1="887.01" x2="233.10" y2="887.01" stroke="#101010" stroke-width="1.5"/>
<line x1="271.11" y1="976.40" x2="271.11" y2="979.60" stroke="#101010" stroke-width="1.5"/>
<line x1="229.30" y1="899.78" x2="233.10" y2="899.78" stroke="#101010" stroke-width="1.5"/>
<line x1="283.78" y1="976.40" x2="283.78" y2="979.60" stroke="#101010" stroke-width="1.5"/>
<line x1="228.50" y1="912.55" x2="233.10" y2="912.55" stroke="#101010" stroke-width="1.5"/>
<line x1="296.45" y1="976.40" x2="296.45" y2="979.60" stroke="#101010" stroke-width="1.5"/>
<line x1="229.30" y1="925.32" x2="233.10" y2="925.32" stroke="#101010" stroke-width="1.5"/>
<line x1="309.12" y1="976.40" x2="309.12" y2="979.60" stroke="#101010" stroke-width="1.5"/>
<line x1="229.30" y1="938.09" x2="233.10" y2="938.09" stroke="#101010" stroke-width="1.5"/>
<line x1="321.79" y1="976.40" x2="321.79" y2="979.60" stroke="#101010" stroke-width="1.5"/>
<line x1="229.30" y1="950.86" x2="233.10" y2="950.86" stroke="#101010" stroke-width="1.5"/>
<line x1="334.46" y1="976.40" x2="334.46" y2="979.60" stroke="#101010" stroke-width="1.5"/>
<line x1="229.30" y1="963.63" x2="233.10" y2="963.63" stroke="#101010" stroke-width="1.5"/>
<line x1="347.13" y1="976.40" x2="347.13" y2="979.60" stroke="#101010" stroke-width="1.5"/>
<line x1="228.50" y1="976.40" x2="233.10" y2="976.40" stroke="#101010" stroke-width="1.5"/>
<line x1="359.80" y1="976.40" x2="359.80" y2="979.60" stroke="#101010" stroke-width="1.5"/>
<text x="233.10" y="995.20" font-size="13.6" text-anchor="middle" textLength="14.50" lengthAdjust="spacingAndGlyphs">48</text>
<text x="295.65" y="995.20" font-size="13.6" text-anchor="middle" textLength="14.50" lengthAdjust="spacingAndGlyphs">38</text>
<text x="359.00" y="995.20" font-size="13.6" text-anchor="middle" textLength="14.50" lengthAdjust="spacingAndGlyphs">28</text>
<path d="M379.00 558.75H383.00V688.40H509.70" fill="none" stroke="#101010" stroke-width="2"/>
<line x1="378.40" y1="558.75" x2="383.00" y2="558.75" stroke="#101010" stroke-width="1.5"/>
<line x1="383.00" y1="688.40" x2="383.00" y2="691.60" stroke="#101010" stroke-width="1.5"/>
<line x1="379.20" y1="571.72" x2="383.00" y2="571.72" stroke="#101010" stroke-width="1.5"/>
<line x1="395.67" y1="688.40" x2="395.67" y2="691.60" stroke="#101010" stroke-width="1.5"/>
<line x1="379.20" y1="584.68" x2="383.00" y2="584.68" stroke="#101010" stroke-width="1.5"/>
<line x1="408.34" y1="688.40" x2="408.34" y2="691.60" stroke="#101010" stroke-width="1.5"/>
<line x1="379.20" y1="597.64" x2="383.00" y2="597.64" stroke="#101010" stroke-width="1.5"/>
<line x1="421.01" y1="688.40" x2="421.01" y2="691.60" stroke="#101010" stroke-width="1.5"/>
<line x1="379.20" y1="610.61" x2="383.00" y2="610.61" stroke="#101010" stroke-width="1.5"/>
<line x1="433.68" y1="688.40" x2="433.68" y2="691.60" stroke="#101010" stroke-width="1.5"/>
<line x1="378.40" y1="623.58" x2="383.00" y2="623.58" stroke="#101010" stroke-width="1.5"/>
<line x1="446.35" y1="688.40" x2="446.35" y2="691.60" stroke="#101010" stroke-width="1.5"/>
<line x1="379.20" y1="636.54" x2="383.00" y2="636.54" stroke="#101010" stroke-width="1.5"/>
<line x1="459.02" y1="688.40" x2="459.02" y2="691.60" stroke="#101010" stroke-width="1.5"/>
<line x1="379.20" y1="649.50" x2="383.00" y2="649.50" stroke="#101010" stroke-width="1.5"/>
<line x1="471.69" y1="688.40" x2="471.69" y2="691.60" stroke="#101010" stroke-width="1.5"/>
<line x1="379.20" y1="662.47" x2="383.00" y2="662.47" stroke="#101010" stroke-width="1.5"/>
<line x1="484.36" y1="688.40" x2="484.36" y2="691.60" stroke="#101010" stroke-width="1.5"/>
<line x1="379.20" y1="675.43" x2="383.00" y2="675.43" stroke="#101010" stroke-width="1.5"/>
<line x1="497.03" y1="688.40" x2="497.03" y2="691.60" stroke="#101010" stroke-width="1.5"/>
<line x1="378.40" y1="688.40" x2="383.00" y2="688.40" stroke="#101010" stroke-width="1.5"/>
<line x1="509.70" y1="688.40" x2="509.70" y2="691.60" stroke="#101010" stroke-width="1.5"/>
<path d="M379.00 705.30H383.00V833.00H509.70" fill="none" stroke="#101010" stroke-width="2"/>
<line x1="378.40" y1="705.30" x2="383.00" y2="705.30" stroke="#101010" stroke-width="1.5"/>
<line x1="383.00" y1="833.00" x2="383.00" y2="836.20" stroke="#101010" stroke-width="1.5"/>
<line x1="379.20" y1="718.07" x2="383.00" y2="718.07" stroke="#101010" stroke-width="1.5"/>
<line x1="395.67" y1="833.00" x2="395.67" y2="836.20" stroke="#101010" stroke-width="1.5"/>
<line x1="379.20" y1="730.84" x2="383.00" y2="730.84" stroke="#101010" stroke-width="1.5"/>
<line x1="408.34" y1="833.00" x2="408.34" y2="836.20" stroke="#101010" stroke-width="1.5"/>
<line x1="379.20" y1="743.61" x2="383.00" y2="743.61" stroke="#101010" stroke-width="1.5"/>
<line x1="421.01" y1="833.00" x2="421.01" y2="836.20" stroke="#101010" stroke-width="1.5"/>
<line x1="379.20" y1="756.38" x2="383.00" y2="756.38" stroke="#101010" stroke-width="1.5"/>
<line x1="433.68" y1="833.00" x2="433.68" y2="836.20" stroke="#101010" stroke-width="1.5"/>
<line x1="378.40" y1="769.15" x2="383.00" y2="769.15" stroke="#101010" stroke-width="1.5"/>
<line x1="446.35" y1="833.00" x2="446.35" y2="836.20" stroke="#101010" stroke-width="1.5"/>
<line x1="379.20" y1="781.92" x2="383.00" y2="781.92" stroke="#101010" stroke-width="1.5"/>
<line x1="459.02" y1="833.00" x2="459.02" y2="836.20" stroke="#101010" stroke-width="1.5"/>
<line x1="379.20" y1="794.69" x2="383.00" y2="794.69" stroke="#101010" stroke-width="1.5"/>
<line x1="471.69" y1="833.00" x2="471.69" y2="836.20" stroke="#101010" stroke-width="1.5"/>
<line x1="379.20" y1="807.46" x2="383.00" y2="807.46" stroke="#101010" stroke-width="1.5"/>
<line x1="484.36" y1="833.00" x2="484.36" y2="836.20" stroke="#101010" stroke-width="1.5"/>
<line x1="379.20" y1="820.23" x2="383.00" y2="820.23" stroke="#101010" stroke-width="1.5"/>
<line x1="497.03" y1="833.00" x2="497.03" y2="836.20" stroke="#101010" stroke-width="1.5"/>
<line x1="378.40" y1="833.00" x2="383.00" y2="833.00" stroke="#101010" stroke-width="1.5"/>
<line x1="509.70" y1="833.00" x2="509.70" y2="836.20" stroke="#101010" stroke-width="1.5"/>
<path d="M379.00 848.70H383.00V976.40H509.70" fill="none" stroke="#101010" stroke-width="2"/>
<line x1="378.40" y1="848.70" x2="383.00" y2="848.70" stroke="#101010" stroke-width="1.5"/>
<line x1="383.00" y1="976.40" x2="383.00" y2="979.60" stroke="#101010" stroke-width="1.5"/>
<line x1="379.20" y1="861.47" x2="383.00" y2="861.47" stroke="#101010" stroke-width="1.5"/>
<line x1="395.67" y1="976.40" x2="395.67" y2="979.60" stroke="#101010" stroke-width="1.5"/>
<line x1="379.20" y1="874.24" x2="383.00" y2="874.24" stroke="#101010" stroke-width="1.5"/>
<line x1="408.34" y1="976.40" x2="408.34" y2="979.60" stroke="#101010" stroke-width="1.5"/>
<line x1="379.20" y1="887.01" x2="383.00" y2="887.01" stroke="#101010" stroke-width="1.5"/>
<line x1="421.01" y1="976.40" x2="421.01" y2="979.60" stroke="#101010" stroke-width="1.5"/>
<line x1="379.20" y1="899.78" x2="383.00" y2="899.78" stroke="#101010" stroke-width="1.5"/>
<line x1="433.68" y1="976.40" x2="433.68" y2="979.60" stroke="#101010" stroke-width="1.5"/>
<line x1="378.40" y1="912.55" x2="383.00" y2="912.55" stroke="#101010" stroke-width="1.5"/>
<line x1="446.35" y1="976.40" x2="446.35" y2="979.60" stroke="#101010" stroke-width="1.5"/>
<line x1="379.20" y1="925.32" x2="383.00" y2="925.32" stroke="#101010" stroke-width="1.5"/>
<line x1="459.02" y1="976.40" x2="459.02" y2="979.60" stroke="#101010" stroke-width="1.5"/>
<line x1="379.20" y1="938.09" x2="383.00" y2="938.09" stroke="#101010" stroke-width="1.5"/>
<line x1="471.69" y1="976.40" x2="471.69" y2="979.60" stroke="#101010" stroke-width="1.5"/>
<line x1="379.20" y1="950.86" x2="383.00" y2="950.86" stroke="#101010" stroke-width="1.5"/>
<line x1="484.36" y1="976.40" x2="484.36" y2="979.60" stroke="#101010" stroke-width="1.5"/>
<line x1="379.20" y1="963.63" x2="383.00" y2="963.63" stroke="#101010" stroke-width="1.5"/>
<line x1="497.03" y1="976.40" x2="497.03" y2="979.60" stroke="#101010" stroke-width="1.5"/>
<line x1="378.40" y1="976.40" x2="383.00" y2="976.40" stroke="#101010" stroke-width="1.5"/>
<line x1="509.70" y1="976.40" x2="509.70" y2="979.60" stroke="#101010" stroke-width="1.5"/>
<text x="383.00" y="995.20" font-size="13.6" text-anchor="middle" textLength="14.50" lengthAdjust="spacingAndGlyphs">48</text>
<text x="445.55" y="995.20" font-size="13.6" text-anchor="middle" textLength="14.50" lengthAdjust="spacingAndGlyphs">38</text>
<text x="508.90" y="995.20" font-size="13.6" text-anchor="middle" textLength="14.50" lengthAdjust="spacingAndGlyphs">28</text>
<text x="186.29" y="666.20" font-size="14.3" textLength="29.85" lengthAdjust="spacingAndGlyphs">97%</text>
<text x="329.96" y="666.80" font-size="14.3" textLength="31.21" lengthAdjust="spacingAndGlyphs">92%</text>
<text x="479.98" y="666.80" font-size="14.3" textLength="30.48" lengthAdjust="spacingAndGlyphs">97%</text>
<text x="92.90" y="715.90" font-size="14.3" textLength="29.84" lengthAdjust="spacingAndGlyphs">58%</text>
<text x="186.28" y="715.90" font-size="14.3" textLength="21.89" lengthAdjust="spacingAndGlyphs">9%</text>
<text x="185.83" y="813.50" font-size="14.3" textLength="30.32" lengthAdjust="spacingAndGlyphs">33%</text>
<text x="240.16" y="715.90" font-size="14.3" textLength="29.98" lengthAdjust="spacingAndGlyphs">43%</text>
<text x="331.42" y="715.90" font-size="14.3" textLength="22.47" lengthAdjust="spacingAndGlyphs">6%</text>
<text x="331.10" y="813.50" font-size="14.3" textLength="30.05" lengthAdjust="spacingAndGlyphs">51%</text>
<text x="388.07" y="715.90" font-size="14.3" textLength="29.78" lengthAdjust="spacingAndGlyphs">49%</text>
<text x="478.18" y="715.90" font-size="14.3" textLength="29.97" lengthAdjust="spacingAndGlyphs">14%</text>
<text x="478.75" y="813.50" font-size="14.3" textLength="29.39" lengthAdjust="spacingAndGlyphs">37%</text>
<text x="92.48" y="857.20" font-size="14.3" textLength="30.48" lengthAdjust="spacingAndGlyphs">97%</text>
<text x="238.58" y="857.20" font-size="14.3" textLength="30.17" lengthAdjust="spacingAndGlyphs">96%</text>
<text x="386.88" y="857.20" font-size="14.3" textLength="30.38" lengthAdjust="spacingAndGlyphs">92%</text>
<g fill="#fff" stroke="#444444" stroke-width="1.7">
<path d="M143.3 675.1L147.3 671.1H171.0L175.0 675.1L171.0 679.1H147.3Z" fill="#727272" stroke="#5c5c5c" stroke-width="1.5"/>
<path d="M99.9 598.7L103.5 602.2L99.9 605.8L96.4 602.2Z"/>
<path d="M99.9 671.6L103.5 675.1L99.9 678.6L96.4 675.1Z"/>
<path d="M162.8 592.8L166.4 596.3L162.8 599.8L159.2 596.3Z"/>
<path d="M164.5 609.2L168.1 612.8L164.5 616.3L160.9 612.8Z"/>
<path d="M161.3 613.0L164.9 616.5L161.3 620.0L157.8 616.5Z"/>
<path d="M179.4 671.6L183.0 675.1L179.4 678.6L175.8 675.1Z"/>
<path d="M184.5 671.6L188.1 675.1L184.5 678.6L180.9 675.1Z"/>
<path d="M288.3 671.4L291.9 674.9L288.3 678.4L284.8 674.9Z"/>
<path d="M323.4 671.4L326.9 674.9L323.4 678.4L319.8 674.9Z"/>
<path d="M291.0 671.4L294.6 674.9L291.0 678.4L287.4 674.9Z"/>
<path d="M321.3 671.4L324.9 674.9L321.3 678.4L317.8 674.9Z"/>
<path d="M291.6 674.9L295.6 670.9H317.2L321.2 674.9L317.2 678.9H295.6Z" fill="#727272" stroke="#5c5c5c" stroke-width="1.5"/>
<path d="M246.3 602.9L249.9 606.4L246.3 609.9L242.8 606.4Z"/>
<path d="M246.3 671.4L249.9 674.9L246.3 678.4L242.8 674.9Z"/>
<path d="M310.3 597.7L313.9 601.2L310.3 604.8L306.8 601.2Z"/>
<path d="M310.3 609.9L313.9 613.4L310.3 616.9L306.8 613.4Z"/>
<path d="M434.8 675.2L438.8 671.2H477.0L481.0 675.2L477.0 679.2H438.8Z" fill="#727272" stroke="#5c5c5c" stroke-width="1.5"/>
<path d="M395.5 600.6L399.1 604.1L395.5 607.6L391.9 604.1Z"/>
<path d="M395.5 603.5L399.1 607.0L395.5 610.5L391.9 607.0Z"/>
<path d="M395.5 606.4L399.1 609.9L395.5 613.4L391.9 609.9Z"/>
<path d="M395.5 671.7L399.1 675.2L395.5 678.8L391.9 675.2Z"/>
<path d="M455.1 595.5L458.7 599.0L455.1 602.5L451.6 599.0Z"/>
<path d="M456.0 602.9L459.6 606.4L456.0 609.9L452.4 606.4Z"/>
<path d="M479.6 671.7L483.2 675.2L479.6 678.8L476.1 675.2Z"/>
<path d="M99.8 730.7L103.8 734.7V771.8L99.8 775.8L95.8 771.8V734.7Z" fill="#727272" stroke="#5c5c5c" stroke-width="1.5"/>
<path d="M99.8 816.1L103.3 819.6L99.8 823.1L96.2 819.6Z"/>
<path d="M138.4 816.1L142.0 819.6L138.4 823.1L134.8 819.6Z"/>
<path d="M143.6 816.1L147.2 819.6L143.6 823.1L140.0 819.6Z"/>
<path d="M146.0 816.1L149.6 819.6L146.0 823.1L142.4 819.6Z"/>
<path d="M184.1 816.1L187.7 819.6L184.1 823.1L180.5 819.6Z"/>
<path d="M181.0 816.1L184.6 819.6L181.0 823.1L177.4 819.6Z"/>
<path d="M178.8 816.1L182.4 819.6L178.8 823.1L175.2 819.6Z"/>
<path d="M175.5 816.1L179.1 819.6L175.5 823.1L171.9 819.6Z"/>
<path d="M147.0 819.6L151.0 815.6H170.3L174.3 819.6L170.3 823.6H151.0Z" fill="#727272" stroke="#5c5c5c" stroke-width="1.5"/>
<path d="M148.8 732.7L152.3 736.2L148.8 739.8L145.2 736.2Z"/>
<path d="M143.5 744.6L147.1 748.1L143.5 751.6L139.9 748.1Z"/>
<path d="M140.0 752.1L143.6 755.6L140.0 759.1L136.4 755.6Z"/>
<path d="M155.6 738.4L159.2 741.9L155.6 745.4L152.0 741.9Z"/>
<path d="M171.2 739.0L174.8 742.5L171.2 746.0L167.7 742.5Z"/>
<path d="M175.6 744.6L179.2 748.1L175.6 751.6L172.0 748.1Z"/>
<path d="M181.2 745.9L184.8 749.4L181.2 752.9L177.7 749.4Z"/>
<path d="M173.8 743.4L177.3 746.9L173.8 750.4L170.2 746.9Z"/>
<path d="M167.5 759.0L171.1 762.5L167.5 766.0L163.9 762.5Z"/>
<path d="M154.4 762.1L158.0 765.6L154.4 769.1L150.8 765.6Z"/>
<path d="M153.1 760.2L156.7 763.8L153.1 767.3L149.5 763.8Z"/>
<path d="M163.6 736.8L167.2 740.3L163.6 743.8L160.0 740.3Z"/>
<path d="M158.7 750.0l3.65 3.65l-3.65 3.65l-3.65 -3.65ZM158.1 745.1l3.65 3.65l-3.65 3.65l-3.65 -3.65ZM155.3 746.2l3.65 3.65l-3.65 3.65l-3.65 -3.65ZM164.2 748.7l3.65 3.65l-3.65 3.65l-3.65 -3.65ZM163.8 747.7l3.65 3.65l-3.65 3.65l-3.65 -3.65ZM161.1 747.7l3.65 3.65l-3.65 3.65l-3.65 -3.65ZM153.2 753.0l3.65 3.65l-3.65 3.65l-3.65 -3.65ZM161.8 749.5l3.65 3.65l-3.65 3.65l-3.65 -3.65ZM155.2 744.6l3.65 3.65l-3.65 3.65l-3.65 -3.65ZM160.5 746.4l3.65 3.65l-3.65 3.65l-3.65 -3.65ZM160.9 742.7l3.65 3.65l-3.65 3.65l-3.65 -3.65ZM160.9 749.0l3.65 3.65l-3.65 3.65l-3.65 -3.65ZM158.1 757.4l3.65 3.65l-3.65 3.65l-3.65 -3.65ZM162.7 753.6l3.65 3.65l-3.65 3.65l-3.65 -3.65ZM156.1 742.8l3.65 3.65l-3.65 3.65l-3.65 -3.65ZM157.8 746.4l3.65 3.65l-3.65 3.65l-3.65 -3.65ZM162.1 747.9l3.65 3.65l-3.65 3.65l-3.65 -3.65ZM156.6 741.5l3.65 3.65l-3.65 3.65l-3.65 -3.65ZM158.3 754.4l3.65 3.65l-3.65 3.65l-3.65 -3.65ZM156.2 748.8l3.65 3.65l-3.65 3.65l-3.65 -3.65ZM159.7 737.7l3.65 3.65l-3.65 3.65l-3.65 -3.65ZM160.7 754.6l3.65 3.65l-3.65 3.65l-3.65 -3.65ZM158.1 742.1l3.65 3.65l-3.65 3.65l-3.65 -3.65ZM161.3 746.2l3.65 3.65l-3.65 3.65l-3.65 -3.65ZM154.0 752.7l3.65 3.65l-3.65 3.65l-3.65 -3.65ZM162.9 752.0l3.65 3.65l-3.65 3.65l-3.65 -3.65ZM165.5 748.1l3.65 3.65l-3.65 3.65l-3.65 -3.65ZM158.6 739.1l3.65 3.65l-3.65 3.65l-3.65 -3.65ZM161.3 742.8l3.65 3.65l-3.65 3.65l-3.65 -3.65ZM156.3 739.6l3.65 3.65l-3.65 3.65l-3.65 -3.65ZM154.9 744.3l3.65 3.65l-3.65 3.65l-3.65 -3.65ZM153.5 749.2l3.65 3.65l-3.65 3.65l-3.65 -3.65ZM165.7 749.4l3.65 3.65l-3.65 3.65l-3.65 -3.65ZM160.1 742.3l3.65 3.65l-3.65 3.65l-3.65 -3.65ZM155.6 753.3l3.65 3.65l-3.65 3.65l-3.65 -3.65ZM164.0 747.1l3.65 3.65l-3.65 3.65l-3.65 -3.65Z" fill="#6b6b6b" stroke="#646464" stroke-width="1.4"/>
<path d="M155.6 738.4L159.2 741.9L155.6 745.4L152.0 741.9Z"/>
<path d="M167.5 759.0L171.1 762.5L167.5 766.0L163.9 762.5Z"/>
<path d="M154.4 762.1L158.0 765.6L154.4 769.1L150.8 765.6Z"/>
<path d="M162.5 740.5l1.5 1.5l-1.5 1.5l-1.5 -1.5Z" fill="#e8e8e8" stroke="none"/>
<path d="M167.0 745.5l1.5 1.5l-1.5 1.5l-1.5 -1.5Z" fill="#e8e8e8" stroke="none"/>
<path d="M167.5 751.5l1.5 1.5l-1.5 1.5l-1.5 -1.5Z" fill="#e8e8e8" stroke="none"/>
<path d="M160.0 757.0l1.5 1.5l-1.5 1.5l-1.5 -1.5Z" fill="#e8e8e8" stroke="none"/>
<path d="M157.5 744.5l1.5 1.5l-1.5 1.5l-1.5 -1.5Z" fill="#e8e8e8" stroke="none"/>
<path d="M246.2 733.5L249.8 737.0L246.2 740.5L242.6 737.0Z"/>
<path d="M246.2 735.9L250.2 739.9V757.6L246.2 761.6L242.2 757.6V739.9Z" fill="#727272" stroke="#5c5c5c" stroke-width="1.5"/>
<path d="M291.5 819.5L295.5 815.5H315.8L319.8 819.5L315.8 823.5H295.5Z" fill="#727272" stroke="#5c5c5c" stroke-width="1.5"/>
<path d="M246.2 816.0L249.8 819.5L246.2 823.0L242.6 819.5Z"/>
<path d="M286.4 816.0L289.9 819.5L286.4 823.0L282.8 819.5Z"/>
<path d="M305.1 753.5L308.7 757.0L305.1 760.5L301.6 757.0Z"/>
<path d="M305.7 745.5L309.2 749.0L305.7 752.5L302.1 749.0Z"/>
<path d="M310.9 737.6L314.4 741.1L310.9 744.6L307.3 741.1Z"/>
<path d="M313.7 737.1L317.2 740.6L313.7 744.1L310.1 740.6Z"/>
<path d="M318.6 733.9L322.2 737.4L318.6 740.9L315.1 737.4Z"/>
<path d="M395.7 729.9L399.7 733.9V765.3L395.7 769.3L391.7 765.3V733.9Z" fill="#727272" stroke="#5c5c5c" stroke-width="1.5"/>
<path d="M437.9 816.0L441.4 819.5L437.9 823.0L434.3 819.5Z"/>
<path d="M473.6 816.0L477.2 819.5L473.6 823.0L470.1 819.5Z"/>
<path d="M438.9 819.5L442.9 815.5H467.0L471.0 819.5L467.0 823.5H442.9Z" fill="#727272" stroke="#5c5c5c" stroke-width="1.5"/>
<path d="M395.6 816.0L399.2 819.5L395.6 823.0L392.1 819.5Z"/>
<path d="M441.2 734.0L444.8 737.5L441.2 741.0L437.7 737.5Z"/>
<path d="M451.2 732.7L454.8 736.2L451.2 739.8L447.7 736.2Z"/>
<path d="M448.1 736.5L451.7 740.0L448.1 743.5L444.6 740.0Z"/>
<path d="M458.8 738.4L462.3 741.9L458.8 745.4L455.2 741.9Z"/>
<path d="M463.1 739.6L466.7 743.1L463.1 746.6L459.6 743.1Z"/>
<path d="M468.1 740.9L471.7 744.4L468.1 747.9L464.6 744.4Z"/>
<path d="M443.1 748.4L446.7 751.9L443.1 755.4L439.6 751.9Z"/>
<path d="M451.9 744.6L455.4 748.1L451.9 751.6L448.3 748.1Z"/>
<path d="M475.0 747.7L478.6 751.2L475.0 754.8L471.4 751.2Z"/>
<path d="M470.0 760.2L473.6 763.8L470.0 767.3L466.4 763.8Z"/>
<path d="M442.5 759.0L446.1 762.5L442.5 766.0L438.9 762.5Z"/>
<path d="M456.9 757.7L460.4 761.2L456.9 764.8L453.3 761.2Z"/>
<path d="M463.8 743.4L467.3 746.9L463.8 750.4L460.2 746.9Z"/>
<path d="M467.5 745.2L471.1 748.8L467.5 752.3L463.9 748.8Z"/>
<path d="M462.5 751.5L466.1 755.0L462.5 758.5L458.9 755.0Z"/>
<path d="M448.0 749.1l3.65 3.65l-3.65 3.65l-3.65 -3.65ZM457.3 751.9l3.65 3.65l-3.65 3.65l-3.65 -3.65ZM448.1 748.0l3.65 3.65l-3.65 3.65l-3.65 -3.65ZM453.6 754.0l3.65 3.65l-3.65 3.65l-3.65 -3.65ZM449.9 745.8l3.65 3.65l-3.65 3.65l-3.65 -3.65ZM455.1 753.2l3.65 3.65l-3.65 3.65l-3.65 -3.65ZM457.7 755.9l3.65 3.65l-3.65 3.65l-3.65 -3.65ZM452.9 750.1l3.65 3.65l-3.65 3.65l-3.65 -3.65ZM451.3 747.0l3.65 3.65l-3.65 3.65l-3.65 -3.65ZM453.2 751.3l3.65 3.65l-3.65 3.65l-3.65 -3.65ZM451.8 750.0l3.65 3.65l-3.65 3.65l-3.65 -3.65ZM453.3 752.8l3.65 3.65l-3.65 3.65l-3.65 -3.65ZM456.9 753.5l3.65 3.65l-3.65 3.65l-3.65 -3.65ZM445.6 748.6l3.65 3.65l-3.65 3.65l-3.65 -3.65ZM447.9 747.6l3.65 3.65l-3.65 3.65l-3.65 -3.65ZM447.5 747.9l3.65 3.65l-3.65 3.65l-3.65 -3.65ZM449.9 749.7l3.65 3.65l-3.65 3.65l-3.65 -3.65ZM457.6 750.0l3.65 3.65l-3.65 3.65l-3.65 -3.65ZM451.2 751.6l3.65 3.65l-3.65 3.65l-3.65 -3.65ZM452.3 751.4l3.65 3.65l-3.65 3.65l-3.65 -3.65ZM454.5 749.1l3.65 3.65l-3.65 3.65l-3.65 -3.65ZM456.0 750.4l3.65 3.65l-3.65 3.65l-3.65 -3.65Z" fill="#6b6b6b" stroke="#646464" stroke-width="1.4"/>
<path d="M466.1 746.1l3.65 3.65l-3.65 3.65l-3.65 -3.65ZM470.7 748.5l3.65 3.65l-3.65 3.65l-3.65 -3.65ZM471.2 747.3l3.65 3.65l-3.65 3.65l-3.65 -3.65ZM469.3 747.6l3.65 3.65l-3.65 3.65l-3.65 -3.65ZM467.0 748.4l3.65 3.65l-3.65 3.65l-3.65 -3.65ZM466.0 747.5l3.65 3.65l-3.65 3.65l-3.65 -3.65ZM469.9 748.3l3.65 3.65l-3.65 3.65l-3.65 -3.65ZM468.6 747.1l3.65 3.65l-3.65 3.65l-3.65 -3.65ZM468.8 747.2l3.65 3.65l-3.65 3.65l-3.65 -3.65Z" fill="#6b6b6b" stroke="#646464" stroke-width="1.4"/>
<path d="M451.9 744.6L455.4 748.1L451.9 751.6L448.3 748.1Z"/>
<path d="M463.8 743.4L467.3 746.9L463.8 750.4L460.2 746.9Z"/>
<path d="M456.9 757.7L460.4 761.2L456.9 764.8L453.3 761.2Z"/>
<path d="M475.0 747.7L478.6 751.2L475.0 754.8L471.4 751.2Z"/>
<path d="M443.1 748.4L446.7 751.9L443.1 755.4L439.6 751.9Z"/>
<path d="M467.5 747.2l1.5 1.5l-1.5 1.5l-1.5 -1.5Z" fill="#e8e8e8" stroke="none"/>
<path d="M462.5 753.5l1.5 1.5l-1.5 1.5l-1.5 -1.5Z" fill="#e8e8e8" stroke="none"/>
<path d="M450.0 751.5l1.5 1.5l-1.5 1.5l-1.5 -1.5Z" fill="#e8e8e8" stroke="none"/>
<path d="M456.0 755.5l1.5 1.5l-1.5 1.5l-1.5 -1.5Z" fill="#e8e8e8" stroke="none"/>
<path d="M99.7 907.2L103.2 910.7L99.7 914.2L96.2 910.7Z"/>
<path d="M99.7 875.3L103.7 879.3V903.6L99.7 907.6L95.7 903.6V879.3Z" fill="#727272" stroke="#5c5c5c" stroke-width="1.5"/>
<path d="M99.7 960.0L103.2 963.5L99.7 967.0L96.2 963.5Z"/>
<path d="M154.4 878.9L158.0 882.4L154.4 885.9L150.8 882.4Z"/>
<path d="M151.2 892.7L154.8 896.2L151.2 899.8L147.6 896.2Z"/>
<path d="M157.9 890.4L161.5 893.9L157.9 897.4L154.3 893.9Z"/>
<path d="M245.9 881.0L249.9 885.0V905.8L245.9 909.8L241.9 905.8V885.0Z" fill="#727272" stroke="#5c5c5c" stroke-width="1.5"/>
<path d="M245.9 873.6L249.5 877.1L245.9 880.6L242.3 877.1Z"/>
<path d="M245.9 915.6L249.5 919.1L245.9 922.6L242.3 919.1Z"/>
<path d="M245.9 960.0L249.5 963.5L245.9 967.0L242.3 963.5Z"/>
<path d="M308.0 897.1L311.6 900.6L308.0 904.1L304.4 900.6Z"/>
<path d="M303.6 960.0L307.2 963.5L303.6 967.0L300.1 963.5Z"/>
<path d="M395.5 873.1L399.1 876.6L395.5 880.1L391.9 876.6Z"/>
<path d="M395.5 909.5L399.1 913.0L395.5 916.5L391.9 913.0Z"/>
<path d="M395.5 877.8L399.5 881.8V908.2L395.5 912.2L391.5 908.2V881.8Z" fill="#727272" stroke="#5c5c5c" stroke-width="1.5"/>
<path d="M449.6 959.9L453.2 963.4L449.6 966.9L446.1 963.4Z"/>
<path d="M453.9 963.4L457.9 959.4H459.3L463.3 963.4L459.3 967.4H457.9Z" fill="#727272" stroke="#5c5c5c" stroke-width="1.5"/>
<path d="M395.5 960.0L399.1 963.5L395.5 967.0L391.9 963.5Z"/>
<path d="M457.4 883.5L460.9 887.0L457.4 890.5L453.8 887.0Z"/>
<path d="M455.7 889.0L459.2 892.5L455.7 896.0L452.1 892.5Z"/>
<path d="M447.0 891.2L450.6 894.8L447.0 898.3L443.4 894.8Z"/>
<path d="M441.2 894.2L444.8 897.7L441.2 901.2L437.6 897.7Z"/>
<path d="M462.3 894.2L465.9 897.7L462.3 901.2L458.8 897.7Z"/>
<path d="M471.5 895.1L475.1 898.6L471.5 902.1L467.9 898.6Z"/>
<path d="M455.1 897.1L458.7 900.6L455.1 904.1L451.6 900.6Z"/>
<path d="M450.8 900.0L454.4 903.5L450.8 907.0L447.2 903.5Z"/>
<path d="M451.6 901.4L455.2 904.9L451.6 908.4L448.1 904.9Z"/>
</g>
<path d="M54.2 978V1006.2H80.5" fill="none" stroke="#101010" stroke-width="1.4"/>
<path d="M54.2 970.4L57.6 979.6H50.8Z" fill="#101010"/>
<path d="M88.8 1006.2L79.4 1002.9V1009.5Z" fill="#101010"/>
<text transform="translate(58.9 963.2) rotate(-90)" x="-1.04" y="0" font-size="14.8" font-weight="bold" textLength="56.70" lengthAdjust="spacingAndGlyphs" stroke-width="0.2">Blimp-1</text>
<text x="99.32" y="1010.10" font-size="14.8" textLength="35.49" lengthAdjust="spacingAndGlyphs" font-weight="bold" stroke-width="0.2">Bcl-6</text>
</g>
</svg>
</body>
</html>
